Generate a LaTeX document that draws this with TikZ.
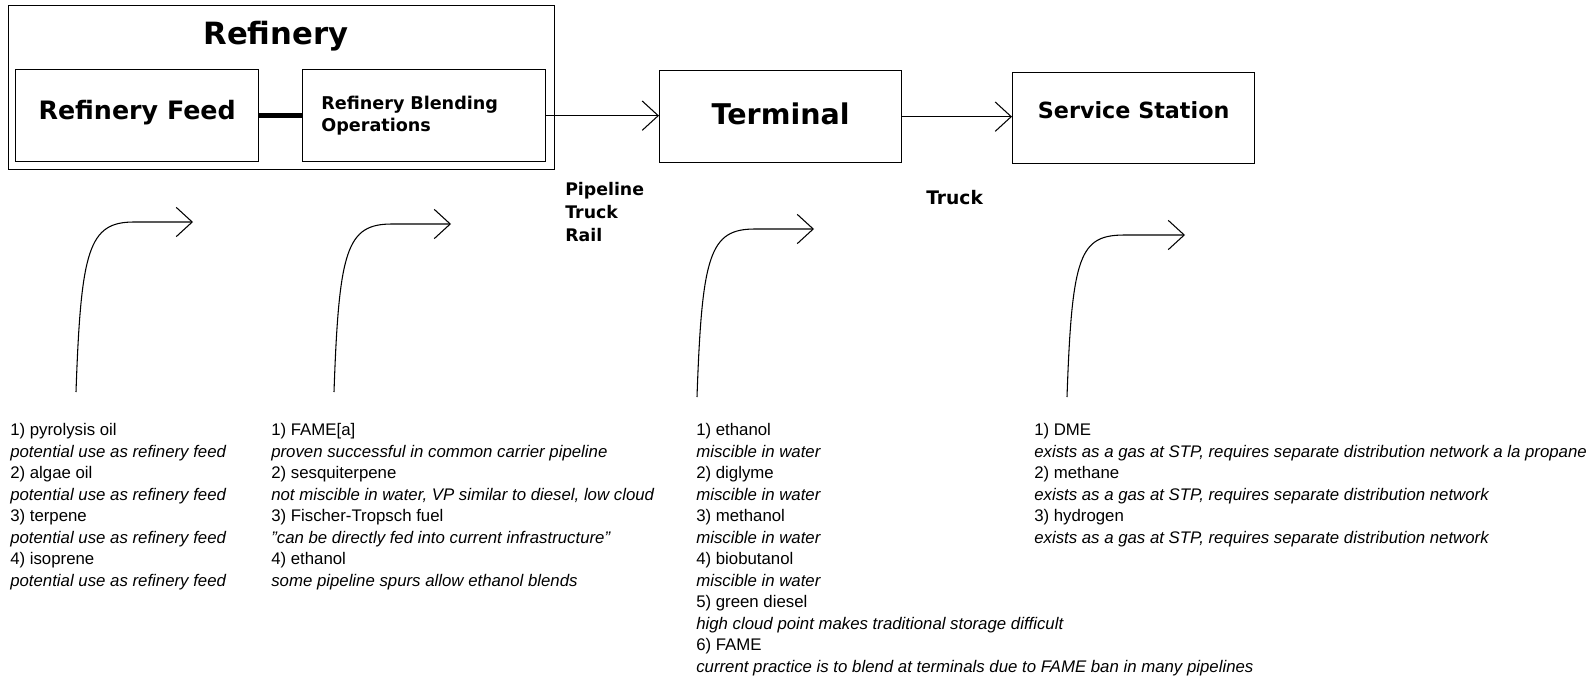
\documentclass[tikz,border=0pt]{standalone}
\usepackage{fontspec}
\setmainfont{Liberation Sans}
\newfontfamily\boxfont{DejaVu Sans}
\usetikzlibrary{arrows.meta}
\tikzset{x=0.75pt, y=-0.75pt,
    stage/.style={draw, line width=1pt, anchor=north west, inner sep=0pt},
    heading/.style={font=\boxfont\bfseries\fontsize{#1}{#1}\selectfont},
    flow/.style={line width=0.8pt, -{Straight Barb[length=12pt,width=22pt]}},
    bendpath/.style={out=88, in=180, out distance=107pt, in distance=34pt},
    fuellist/.style={anchor=base west, align=left, inner sep=0pt,
        font=\fontsize{12.6}{16.1}\selectfont},% placed by its last line
    }

\begin{document}
\begin{tikzpicture}
\useasboundingbox (0,0) rectangle (1595,678);
% refinery
\node[stage, minimum width=409.5pt, minimum height=123pt] (refinery) at (8,5) {};
\node[heading=23] (refinerytitle) at (276,36) {Refinery};
\node[stage, minimum width=182.25pt, minimum height=69pt, heading=19, text depth=8pt] (feed) at (15,69) {Refinery Feed};
\node[stage, minimum height=69pt, text width=154.25pt, inner xsep=14pt, align=left,
    font=\boxfont\bfseries\fontsize{13.2}{16.5}\selectfont] (blend) at (302,69) {Refinery Blending\\Operations};
% downstream
\node[stage, minimum width=181.5pt, minimum height=69pt, heading=21.4, text depth=5pt] (terminal) at (659,70) {Terminal};
\node[stage, minimum width=181.5pt, minimum height=68.25pt, heading=16.7, text depth=11.7pt] (station) at (1012,72) {Service Station};

\draw[line width=3.75pt] (feed.east) -- (blend.west);
\draw[flow] (blend.east) -- (blend.east -| terminal.west);
\draw[flow] (terminal.east) -- (terminal.east -| station.west);

\node[anchor=base west, align=left, inner sep=0pt,
    font=\boxfont\bfseries\fontsize{13}{16.9}\selectfont] (railmodes) at (565,241) {Pipeline\\Truck\\Rail};
\node[heading=14, anchor=base west, inner sep=0pt] (truckmode) at (926,204) {Truck};

% where each fuel goes in
\coordinate (feedfoot) at (76,392);
\coordinate (feedbend) at (134,222);
\coordinate (feedtip) at (193,222);
\draw[flow] (feedfoot) to[bendpath] (feedbend) -- (feedtip);
\coordinate (blendfoot) at (334,392);
\coordinate (blendbend) at (392,224);
\coordinate (blendtip) at (451,224);
\draw[flow] (blendfoot) to[bendpath] (blendbend) -- (blendtip);
\coordinate (terminalfoot) at (697,397);
\coordinate (terminalbend) at (755,229);
\coordinate (terminaltip) at (814,229);
\draw[flow] (terminalfoot) to[bendpath] (terminalbend) -- (terminaltip);
\coordinate (stationfoot) at (1067,397);
\coordinate (stationbend) at (1125,235);
\coordinate (stationtip) at (1185,235);
\draw[flow] (stationfoot) to[bendpath] (stationbend) -- (stationtip);

\node[fuellist] (feedlist) at (10,586) {1) pyrolysis oil\\
    \textit{potential use as refinery feed}\\
    2) algae oil\\
    \textit{potential use as refinery feed}\\
    3) terpene\\
    \textit{potential use as refinery feed}\\
    4) isoprene\\
    \textit{potential use as refinery feed}};
\node[fuellist] (blendlist) at (271,586) {1) FAME[a]\\
    \textit{proven successful in common carrier pipeline}\\
    2) sesquiterpene\\
    \textit{not miscible in water, VP similar to diesel, low cloud}\\
    3) Fischer-Tropsch fuel\\
    \textit{"can be directly fed into current infrastructure"}\\
    4) ethanol\\
    \textit{some pipeline spurs allow ethanol blends}};
\node[fuellist] (terminallist) at (696,672) {1) ethanol\\
    \textit{miscible in water}\\
    2) diglyme\\
    \textit{miscible in water}\\
    3) methanol\\
    \textit{miscible in water}\\
    4) biobutanol\\
    \textit{miscible in water}\\
    5) green diesel\\
    \textit{high cloud point makes traditional storage difficult}\\
    6) FAME\\
    \textit{current practice is to blend at terminals due to FAME ban in many pipelines}};
\node[fuellist] (stationlist) at (1034,543) {1) DME\\
    \textit{exists as a gas at STP, requires separate distribution network a la propane}\\
    2) methane\\
    \textit{exists as a gas at STP, requires separate distribution network}\\
    3) hydrogen\\
    \textit{exists as a gas at STP, requires separate distribution network}};
\end{tikzpicture}
\end{document}
